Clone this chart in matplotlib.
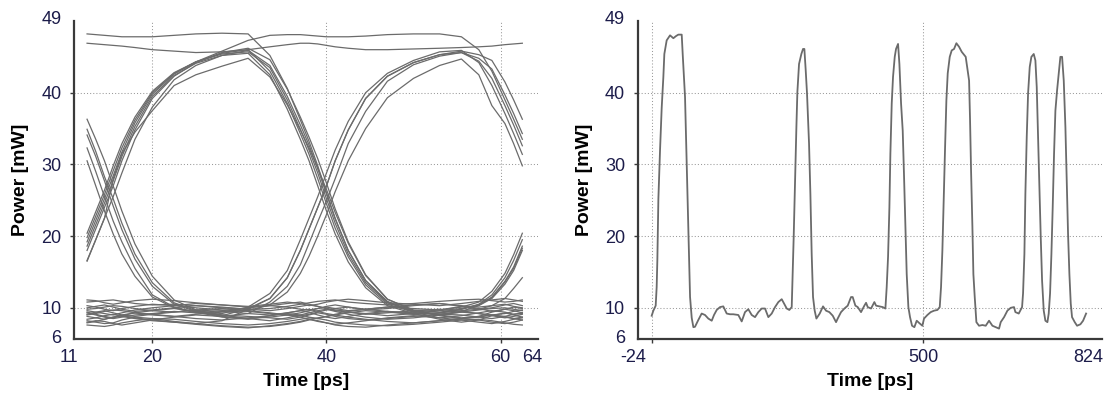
import matplotlib
matplotlib.use("Agg")
import matplotlib.pyplot as plt
from matplotlib.transforms import ScaledTranslation

plt.rcParams['font.family'] = ['Liberation Sans', 'DejaVu Sans']

# ---------------- data: eye diagram (left) ----------------
eye_t = [12.5, 13.5, 14.5, 15.5, 16.5, 18, 20, 22.5, 25, 28, 31, 33.5, 35.5, 37, 38, 39,
         40, 41, 42.5, 44.5, 47, 50, 53, 55.5, 57.5, 59, 60.5, 61.5, 62.5]

eye_top = [
    [48.2, 48.1, 48.0, 47.9, 47.8, 47.8, 47.8, 48.0, 48.2, 48.3, 48.2, 45.2, 40.6, 36.2, 33.2, 29.8,
     26.0, 22.5, 18.0, 13.8, 10.9, 9.4, 8.6, 8.9, 9.3, 9.6, 9.4, 9.1, 9.2],
    [46.9, 46.8, 46.7, 46.6, 46.5, 46.3, 46.0, 45.8, 45.6, 45.7, 46.0, 46.4, 46.7, 46.9, 46.9, 46.8,
     46.6, 46.4, 46.2, 46.0, 46.0, 46.1, 46.2, 46.3, 46.4, 46.5, 46.7, 46.8, 46.9],
    [19.2, 22.2, 25.2, 28.4, 31.7, 35.8, 39.8, 42.6, 44.3, 45.8, 47.3, 48.0, 48.1, 48.1, 48.0, 47.9,
     47.8, 47.8, 47.8, 47.9, 48.1, 48.2, 48.2, 47.8, 46.0, 43.0, 39.0, 36.3, 33.5],
]

eye_rise1 = [
    [20.4, 23.4, 26.4, 29.8, 32.9, 36.6, 40.2, 42.8, 44.3, 45.4, 45.7, 43.5, 39.0, 34.9, 32.0, 28.8,
     25.2, 21.8, 17.5, 13.5, 10.7, 9.5, 9.0, 8.6, 8.8, 9.4, 9.8, 9.6, 9.3],
    [18.0, 21.0, 24.0, 27.0, 30.5, 34.8, 39.2, 42.3, 44.2, 45.6, 46.2, 44.6, 40.5, 36.6, 33.8, 30.8,
     27.4, 23.8, 19.2, 14.6, 11.2, 9.7, 9.4, 9.8, 10.5, 11.8, 14.2, 16.6, 19.5],
    [18.6, 21.6, 24.6, 27.7, 31.1, 35.3, 39.5, 42.4, 44.1, 45.2, 45.5, 42.5, 37.7, 33.5, 30.5, 27.0,
     23.5, 20.3, 16.4, 12.8, 10.3, 9.2, 8.4, 8.0, 8.3, 8.9, 9.3, 9.0, 8.7],
    [16.6, 19.5, 22.5, 25.5, 28.8, 33.5, 38.0, 41.8, 43.8, 45.2, 45.9, 43.8, 39.5, 35.5, 32.7, 29.4,
     25.9, 22.4, 18.0, 13.8, 10.8, 9.6, 9.1, 9.5, 10.3, 11.3, 13.3, 15.2, 18.0],
    [19.8, 22.8, 25.8, 29.1, 32.3, 36.2, 40.0, 42.7, 44.3, 45.5, 46.0, 43.0, 38.5, 34.3, 31.4, 28.0,
     24.5, 21.1, 17.1, 13.2, 10.5, 9.4, 9.7, 10.2, 9.9, 9.5, 9.8, 10.1, 9.9],
    [16.5, 19.5, 22.5, 28.0, 31.5, 34.5, 37.5, 41.0, 42.5, 43.7, 44.8, 42.2, 38.3, 34.8, 32.3, 29.5,
     26.5, 23.3, 19.0, 14.5, 11.2, 9.6, 8.9, 8.5, 8.7, 9.0, 8.8, 8.5, 8.7],
]

eye_fall1 = [
    [34.9, 31.8, 28.3, 25.2, 21.8, 17.5, 13.5, 10.7, 9.6, 8.9, 9.9, 11.3, 14.2, 18.0, 21.0, 24.0,
     27.0, 30.5, 34.8, 39.2, 42.3, 44.2, 45.3, 45.6, 44.4, 42.0, 38.2, 35.5, 32.6],
    [32.3, 29.0, 25.5, 22.1, 19.2, 15.5, 11.8, 10.1, 9.4, 8.7, 8.4, 8.9, 9.3, 9.6, 9.4, 9.0,
     8.7, 8.5, 8.8, 9.2, 9.5, 9.1, 9.3, 9.8, 10.4, 11.4, 13.6, 15.5, 18.3],
    [36.3, 33.5, 30.5, 27.0, 23.5, 18.9, 14.4, 11.1, 9.7, 9.0, 8.5, 8.2, 8.6, 9.0, 9.3, 9.6,
     9.8, 9.5, 9.1, 8.7, 8.4, 8.6, 9.0, 9.4, 9.2, 8.9, 8.6, 8.8, 9.1],
    [30.5, 27.0, 23.5, 20.3, 17.5, 14.4, 11.5, 10.0, 9.3, 9.6, 10.0, 10.3, 10.1, 9.8, 9.7, 9.9,
     10.2, 10.4, 10.1, 9.7, 9.9, 10.3, 10.6, 10.2, 9.8, 10.0, 10.4, 10.6, 10.3],
    [34.1, 31.1, 27.7, 24.2, 20.9, 16.8, 13.0, 10.5, 9.5, 8.8, 9.2, 10.8, 13.0, 16.0, 19.0, 22.0,
     24.9, 28.0, 32.9, 37.4, 41.6, 43.9, 45.1, 45.6, 44.8, 43.3, 39.7, 37.1, 34.3],
]

eye_rise2 = [
    [9.4, 9.1, 8.8, 8.6, 8.9, 9.3, 9.6, 9.9, 9.5, 9.2, 10.1, 12.0, 15.2, 19.5, 22.5, 25.5,
     28.8, 32.0, 36.0, 40.0, 42.7, 44.5, 45.7, 45.9, 44.2, 41.0, 37.1, 34.3, 31.4],
    [8.2, 8.0, 7.8, 7.9, 8.3, 8.7, 8.5, 8.1, 7.8, 8.2, 9.8, 11.3, 14.2, 18.0, 21.0, 24.0,
     27.0, 30.5, 34.8, 39.2, 42.3, 44.2, 45.3, 45.8, 45.3, 44.5, 41.5, 39.0, 36.3],
    [9.8, 9.9, 10.1, 10.3, 10.2, 9.9, 9.6, 9.4, 9.7, 9.9, 9.6, 10.4, 12.2, 14.8, 17.2, 20.0,
     23.0, 26.2, 30.5, 35.0, 39.3, 42.0, 43.8, 44.7, 42.5, 38.2, 35.7, 32.9, 29.8],
]

eye_rise3 = [
    [10.0, 10.2, 10.4, 10.1, 9.8, 9.5, 9.7, 10.0, 10.3, 10.1, 9.8, 9.6, 9.9, 10.2, 10.4, 10.2,
     9.9, 9.7, 9.5, 9.8, 10.1, 9.9, 9.7, 10.1, 10.8, 12.3, 14.8, 17.4, 20.4],
    [8.8, 8.6, 8.4, 8.7, 9.0, 9.3, 9.1, 8.8, 8.5, 8.3, 8.6, 8.9, 9.2, 9.0, 8.7, 8.5,
     8.8, 9.1, 9.4, 9.2, 8.9, 9.2, 9.6, 9.9, 10.4, 11.5, 13.7, 15.7, 18.6],
    [9.1, 9.4, 9.6, 9.3, 9.0, 8.8, 9.1, 9.4, 9.7, 9.5, 9.2, 9.0, 9.3, 9.6, 9.8, 9.5,
     9.2, 9.0, 9.3, 9.6, 9.4, 9.1, 9.3, 9.6, 9.8, 10.3, 11.3, 12.7, 14.2],
]

eye_low = [
    [10.8, 10.9, 11.0, 11.1, 10.9, 10.6, 10.4, 10.5, 10.3, 10.0, 9.8, 9.9, 10.2, 10.5, 10.7, 10.9,
     11.0, 11.1, 10.8, 10.6, 10.4, 10.6, 10.9, 11.1, 11.2, 11.0, 10.8, 10.9, 11.1],
    [7.6, 7.5, 7.4, 7.6, 7.9, 8.2, 8.5, 8.4, 8.1, 7.8, 7.6, 7.8, 8.1, 8.4, 8.6, 8.5,
     8.3, 8.0, 7.8, 7.6, 7.5, 7.7, 8.0, 8.3, 8.4, 8.2, 7.9, 7.7, 7.6],
    [9.0, 9.2, 9.5, 9.7, 9.6, 9.3, 9.0, 8.8, 9.1, 9.4, 9.6, 9.3, 9.0, 8.9, 9.1, 9.4,
     9.7, 9.9, 10.1, 9.8, 9.5, 9.3, 9.1, 9.4, 9.7, 9.9, 10.0, 9.8, 9.6],
    [10.3, 10.1, 9.8, 9.6, 9.9, 10.2, 10.5, 10.3, 10.0, 9.7, 9.5, 9.2, 9.0, 9.3, 9.6, 9.9,
     10.1, 9.9, 9.6, 9.8, 10.1, 10.4, 10.6, 10.3, 10.1, 10.3, 10.5, 10.2, 10.0],
    [8.4, 8.6, 8.9, 9.1, 8.8, 8.5, 8.2, 8.0, 7.8, 7.5, 7.3, 7.4, 7.7, 8.0, 8.3, 8.6,
     8.8, 9.0, 8.7, 8.4, 8.1, 7.9, 8.2, 8.5, 8.8, 9.0, 8.7, 8.5, 8.3],
    [9.6, 9.4, 9.2, 9.0, 9.3, 9.7, 10.0, 10.3, 10.6, 10.4, 10.1, 10.3, 10.6, 10.8, 10.5, 10.2,
     9.9, 9.6, 9.4, 9.1, 9.3, 9.6, 9.8, 9.5, 9.2, 9.0, 9.2, 9.5, 9.7],
    [8.0, 8.2, 8.1, 7.8, 7.6, 7.9, 8.3, 8.7, 9.0, 8.8, 8.5, 8.7, 9.0, 8.7, 8.4, 8.1,
     7.9, 7.7, 7.9, 8.2, 8.6, 8.9, 8.6, 8.3, 8.0, 7.8, 8.1, 8.4, 8.6],
    [11.1, 11.0, 10.7, 10.5, 10.7, 11.0, 11.2, 11.0, 10.7, 10.4, 10.2, 10.5, 10.8, 10.6, 10.3, 10.5,
     10.8, 11.0, 11.2, 11.0, 10.7, 10.5, 10.3, 10.6, 10.9, 11.1, 11.3, 11.1, 10.9],
    [9.3, 9.0, 8.7, 8.5, 8.7, 9.0, 9.2, 9.5, 9.3, 9.0, 8.8, 8.6, 8.4, 8.7, 9.0, 9.3,
     9.1, 8.8, 8.5, 8.3, 8.5, 8.8, 9.1, 9.0, 8.7, 8.5, 8.8, 9.1, 9.3],
    [7.9, 8.1, 8.4, 8.7, 8.9, 8.6, 8.3, 8.0, 7.7, 7.4, 7.2, 7.5, 7.8, 8.1, 8.4, 8.2,
     7.9, 7.6, 7.4, 7.3, 7.6, 7.9, 8.2, 8.5, 8.3, 8.0, 7.8, 8.0, 8.3],
]

# ---------------- data: time trace (right) ----------------
sig_t = [-24, -20.8, -16.3, -14.4, -13.1, -11.1, -7.9, -4.7, -1.5, 0.4, 4.9, 11.4, 17.8, 22.9,
         27.4, 33.9, 35.8, 40.3, 43.5, 46.7, 50.0, 53.2, 56.4, 59.5, 65.9, 72.4, 78.8, 85.2,
         91.8, 96.2, 101.4, 107.8, 114.1, 120.7, 127.1, 133.4, 143.1, 149.6, 156.0, 162.4,
         168.9, 175.3, 181.7, 188.2, 194.6, 201.0, 207.5, 213.9, 220.3, 226.8, 231.3, 236.5,
         241.5, 246.1, 247.4, 249.9, 252.5, 255.1, 257.0, 260.2, 264.7, 267.9, 270.5, 273.1,
         275.6, 279.5, 282.1, 284.6, 287.2, 290.4, 293.7, 300.1, 306.5, 312.3, 318.7, 325.2,
         331.6, 334.8, 341.2, 347.7, 354.1, 360.5, 363.7, 368.9, 373.4, 379.8, 386.2, 389.5,
         392.7, 399.1, 405.5, 408.8, 415.2, 421.6, 426.8, 429.3, 431.9, 434.5, 436.4, 439.0,
         441.5, 444.8, 447.3, 451.2, 453.8, 457.0, 460.2, 462.8, 465.3, 467.9, 471.1, 474.3,
         478.2, 482.7, 487.2, 491.7, 498.1, 501.3, 507.8, 514.2, 520.6, 527.1, 531.6, 534.1,
         536.7, 539.3, 541.9, 544.4, 547.0, 550.9, 554.7, 559.2, 563.7, 568.9, 574.0, 581.7,
         588.2, 590.1, 592.0, 594.6, 596.5, 599.1, 602.3, 607.4, 613.9, 620.3, 626.7, 633.2,
         639.6, 646.0, 649.2, 655.7, 662.1, 668.5, 674.9, 677.5, 684.0, 690.4, 692.3, 694.9,
         696.8, 699.4, 702.0, 705.2, 708.4, 712.9, 716.1, 718.7, 721.3, 723.8, 726.4, 729.0,
         732.2, 735.4, 739.3, 741.8, 744.4, 747.0, 749.5, 752.1, 754.7, 757.9, 761.1, 764.3,
         767.6, 770.8, 774.0, 776.6, 779.1, 781.7, 784.3, 786.8, 792.0, 796.5, 802.9, 808.1,
         813.9]
sig_p = [8.9, 9.6, 10.3, 12.9, 16.6, 25.2, 32.0, 37.9, 42.2, 45.4, 47.3, 48.0, 47.6, 47.9,
         48.1, 48.1, 45.4, 39.4, 30.1, 20.8, 11.5, 8.6, 7.3, 7.35, 8.3, 9.2, 9.0, 8.5,
         8.2, 9.0, 9.7, 10.1, 10.2, 9.2, 9.1, 9.1, 9.0, 8.1, 9.4, 9.8,
         9.0, 8.7, 9.4, 9.9, 9.9, 8.7, 9.2, 10.1, 10.8, 11.2, 10.6, 9.9,
         9.7, 10.1, 13.3, 19.9, 27.8, 35.2, 40.1, 44.0, 45.4, 46.1, 46.1, 43.1,
         39.9, 32.9, 25.9, 17.5, 11.5, 9.6, 8.5, 9.2, 10.2, 9.6, 9.4, 8.9,
         8.0, 8.5, 9.4, 9.9, 10.3, 11.5, 11.5, 10.3, 10.1, 9.4, 10.3, 10.7,
         10.1, 9.9, 10.8, 10.3, 10.2, 10.1, 9.9, 12.9, 17.1, 24.0, 31.5, 38.5,
         42.2, 45.0, 46.1, 46.8, 44.0, 38.5, 34.7, 28.2, 21.3, 14.7, 10.1, 8.7,
         7.5, 7.3, 8.2, 7.9, 7.5, 8.5, 9.0, 9.4, 9.6, 9.7, 10.1, 12.9,
         18.0, 25.4, 32.4, 38.9, 42.7, 45.0, 45.9, 46.1, 46.9, 46.4, 45.7, 45.0,
         41.7, 36.1, 29.2, 21.3, 14.7, 11.5, 8.0, 7.5, 7.6, 7.5, 8.2, 7.5,
         7.3, 7.1, 8.0, 8.7, 9.6, 10.0, 10.1, 9.4, 9.2, 10.1, 12.0, 17.5,
         25.9, 33.8, 39.9, 43.6, 45.0, 45.4, 44.5, 40.8, 33.8, 26.8, 19.9, 13.8,
         9.6, 8.2, 8.0, 9.2, 12.0, 17.5, 24.0, 31.5, 37.5, 40.3, 42.7, 45.0,
         45.0, 41.7, 35.2, 27.8, 20.3, 14.7, 10.6, 8.7, 8.0, 7.5, 7.7, 8.2,
         9.2]

# axis / tick definitions
eye_xticks = [11, 20, 40, 60, 64]
eye_xmarks = [20, 40, 60]
sig_xticks = [-24, 500, 824]
sig_xmarks = [-24, 500]
yticks = [6, 10, 20, 30, 40, 49]
ymarks = [10, 20, 30, 40]
eye_gridx = [20, 40, 60]
sig_gridx = [-24, 500]
gridy = [10, 20, 30, 40]

LINE = '#6b6b6b'
SPINE = '#3a3a3a'
TXT = '#1c1c4a'

fig = plt.figure(figsize=(11.1, 3.95), dpi=100)
ax1 = fig.add_axes([0.06667, 0.14177, 0.41802, 0.80506])
ax2 = fig.add_axes([0.57450, 0.14177, 0.41802, 0.80506])


def style(ax, xticks, xmarks, gridx, xlim, xoffsets):
    ax.set_xlim(*xlim)
    ax.set_ylim(5.65, 50.0)
    for s in ['top', 'right']:
        ax.spines[s].set_visible(False)
    for s in ['left', 'bottom']:
        ax.spines[s].set_color(SPINE)
        ax.spines[s].set_linewidth(1.6)
    ax.set_xticks(xticks)
    ax.set_xticklabels([str(v) for v in xticks])
    ax.set_yticks(yticks)
    ax.set_yticklabels([str(v) for v in yticks])
    ax.tick_params(axis='both', length=3, width=1, color=SPINE, labelsize=13, labelcolor=TXT)
    ax.tick_params(axis='y', pad=6)
    ax.tick_params(axis='x', pad=4)
    for tk, v in zip(ax.xaxis.get_major_ticks(), xticks):
        if v not in xmarks:
            tk.tick1line.set_visible(False)
    for tk, v in zip(ax.yaxis.get_major_ticks(), yticks):
        if v not in ymarks:
            tk.tick1line.set_visible(False)
    for gx in gridx:
        ax.axvline(gx, color='#9a9a9a', lw=0.75, ls=(0, (1, 2)), zorder=1)
    for gy in gridy:
        ax.axhline(gy, color='#9a9a9a', lw=0.75, ls=(0, (1, 2)), zorder=1)
    for lab in ax.get_xticklabels():
        dx = xoffsets.get(lab.get_text(), 0)
        if dx:
            lab.set_transform(lab.get_transform() + ScaledTranslation(dx / 100, 0, fig.dpi_scale_trans))
    for lab in ax.get_yticklabels():
        if lab.get_text() == '49':
            lab.set_transform(lab.get_transform() + ScaledTranslation(0, 11 / 100, fig.dpi_scale_trans))
    ax.set_ylabel('Power [mW]', fontsize=14, fontweight='bold', color='black', va='center')
    ax.set_xlabel('Time [ps]', fontsize=14, fontweight='bold', color='black', va='center')
    ax.yaxis.set_label_coords(-0.1145, 0.5)
    ax.xaxis.set_label_coords(0.5, -0.1352)


style(ax1, eye_xticks, eye_xmarks, eye_gridx, (11, 64.3), {'11': -5, '64': -3})
style(ax2, sig_xticks, sig_xmarks, sig_gridx, (-51, 844), {'-24': -19, '824': -3})

for group in (eye_low, eye_rise3, eye_rise2, eye_fall1, eye_rise1, eye_top):
    for tr in group:
        ax1.plot(eye_t, tr, color=LINE, lw=0.9, zorder=3)

ax2.plot(sig_t, sig_p, color=LINE, lw=1.3, zorder=3)

fig.savefig('out.png', dpi=100)
